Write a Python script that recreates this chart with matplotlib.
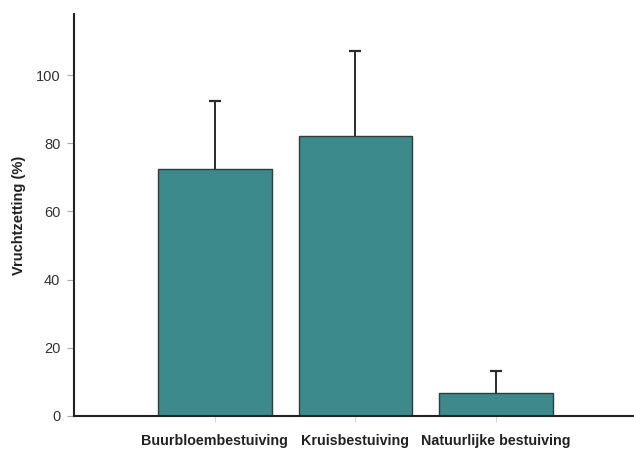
import matplotlib.pyplot as plt
import numpy as np

plt.rcParams['font.family'] = ['Liberation Sans', 'DejaVu Sans']

# vruchtzetting per bestuivingswijze
labels = ['Buurbloembestuiving', 'Kruisbestuiving', 'Natuurlijke bestuiving']
waarden = [72.4, 82.2, 6.7]
fout = [20.0, 24.8, 6.6]

fig = plt.figure(figsize=(6.34, 4.51), dpi=100)
ax = fig.add_axes([0.117, 0.078, 0.883, 0.891])

x = np.arange(len(labels))
ax.bar(x, waarden, width=0.81, color='#3c8a8c', edgecolor='#2f3d3d', linewidth=1.0,
       zorder=2)
# alleen de bovenste foutbalk
eb = ax.errorbar(x, waarden, yerr=[np.zeros(len(fout)), fout], fmt='none',
                 ecolor='#2b2b2b', elinewidth=1.4, capsize=4, capthick=1.6, zorder=3)
eb[1][0].set_visible(False)

ax.set_xlim(-1.0, 2.98)
ax.set_ylim(0, 118)
ax.set_yticks([0, 20, 40, 60, 80, 100])
ax.set_xticks(x)
ax.set_xticklabels(labels, fontsize=10.3, fontweight='bold', color='#222222')
ax.set_ylabel('Vruchtzetting (%)', fontsize=10.5, fontweight='bold', color='#222222',
              labelpad=7)

for s in ['top', 'right']:
    ax.spines[s].set_visible(False)
for s in ['left', 'bottom']:
    ax.spines[s].set_linewidth(1.5)
    ax.spines[s].set_color('#222222')

ax.tick_params(axis='y', length=5, width=0.8, color='#aaaaaa', labelsize=10.5,
               labelcolor='#333333', pad=5)
ax.tick_params(axis='x', length=4, width=0.6, color='#cccccc', pad=9)

plt.savefig('out.png', dpi=100)
